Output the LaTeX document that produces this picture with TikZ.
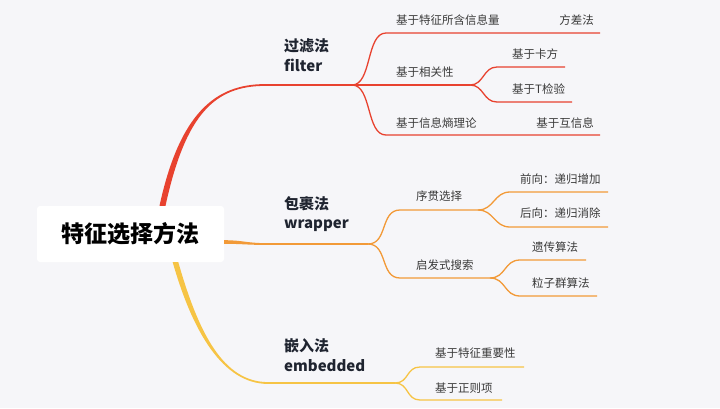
\documentclass[tikz,border=0pt]{standalone}
\usepackage{fontspec}
\setmainfont{Noto Sans CJK SC}
\definecolor{hgrund}{HTML}{F6F6F9}
\definecolor{astrot}{HTML}{E8422F}
\definecolor{astorange}{HTML}{F29A38}
\definecolor{astgelb}{HTML}{F6C445}
\definecolor{titel}{HTML}{1F2430}
\definecolor{schrift}{HTML}{3A3A3A}
\begin{document}
\begin{tikzpicture}[x=1pt, y=-1pt,
    wurzel/.style={rectangle, fill=white, rounded corners=3pt, minimum width=187pt, minimum height=56pt, inner sep=0pt, font=\fontsize{23}{23}\selectfont\bfseries, text=black},
    haupt/.style={anchor=west, align=left, inner sep=0pt, font=\fontsize{15}{19.5}\selectfont\bfseries, text=titel},
    blatt/.style={anchor=west, inner sep=0pt, font=\fontsize{11.5}{12}\selectfont, text=schrift},
    ast/.style={line width=1.7pt},
    zweig/.style={line width=1.3pt}
]
    \fill[hgrund] (0,0) rectangle (720,408);

    % Wurzel
    \node[wurzel] (root) at (130.5,234) {特征选择方法};

    % Hauptaeste
    \node[haupt] (filter) at (284,55) {过滤法\\filter};
    \node[haupt] (wrapper) at (284,214) {包裹法\\wrapper};
    \node[haupt] (embedded) at (284,355) {嵌入法\\embedded};

    \coordinate (f0) at ([xshift=32pt]root.north);
    \coordinate (f1) at (265,85);
    \coordinate (fj) at (352,85);
    \fill[astrot] ([xshift=-3pt]f0) .. controls +(20,-92) and +(-50,0) .. ([yshift=0.9pt]f1)
        -- ([yshift=-0.9pt]f1) .. controls +(-50,0) and +(20,-92) .. ([xshift=3pt]f0) -- cycle;
    \draw[astrot, ast] (f1) -- (fj);

    \coordinate (o0) at ([yshift=-8pt]root.east);
    \coordinate (o1) at (265,244);
    \coordinate (wj) at (368,244);
    \fill[astorange] ([yshift=1.8pt]o0) .. controls +(18,0) and +(-18,0) .. ([yshift=0.9pt]o1)
        -- ([yshift=-0.9pt]o1) .. controls +(-18,0) and +(18,0) .. ([yshift=-1.8pt]o0) -- cycle;
    \draw[astorange, ast] (o1) -- (wj);

    \coordinate (e0) at ([xshift=45pt]root.south);
    \coordinate (e1) at (268,383);
    \coordinate (ej) at (395,383);
    \fill[astgelb] ([xshift=-2.8pt]e0) .. controls +(20,70) and +(-45,0) .. ([yshift=-0.9pt]e1)
        -- ([yshift=0.9pt]e1) .. controls +(-45,0) and +(20,70) .. ([xshift=2.8pt]e0) -- cycle;
    \draw[astgelb, ast] (e1) -- (ej);

    % Filter
    \node[blatt] (f-info) at (396,20) {基于特征所含信息量};
    \node[blatt, anchor=east] (f-var) at (594,20) {方差法};
    \node[blatt] (f-korr) at (396,72) {基于相关性};
    \node[blatt] (f-chi) at (512,54) {基于卡方};
    \node[blatt] (f-t) at (512,89) {基于T检验};
    \node[blatt] (f-entr) at (396,123) {基于信息熵理论};
    \node[blatt, anchor=east] (f-mi) at (594,123) {基于互信息};

    \coordinate (fa) at (386,33);   \coordinate (fae) at (600,33);
    \coordinate (fb) at (470,85);
    \coordinate (fb1) at (497,67);  \coordinate (fb1e) at (565,67);
    \coordinate (fb2) at (497,102); \coordinate (fb2e) at (572,102);
    \coordinate (fc) at (386,135);  \coordinate (fce) at (600,135);
    \draw[astrot, zweig] (fj) .. controls +(20,0) and +(-20,0) .. (fa) -- (fae);
    \draw[astrot, zweig] (fj) -- (fb);
    \draw[astrot, zweig] (fb) .. controls +(14,0) and +(-14,0) .. (fb1) -- (fb1e);
    \draw[astrot, zweig] (fb) .. controls +(14,0) and +(-14,0) .. (fb2) -- (fb2e);
    \draw[astrot, zweig] (fj) .. controls +(20,0) and +(-20,0) .. (fc) -- (fce);

    % Wrapper
    \node[blatt] (w-seq) at (416,196) {序贯选择};
    \node[blatt] (w-vor) at (520,179) {前向：递归增加};
    \node[blatt] (w-rueck) at (520,213) {后向：递归消除};
    \node[blatt] (w-heur) at (416,265) {启发式搜索};
    \node[blatt] (w-gen) at (532,247) {遗传算法};
    \node[blatt] (w-pso) at (532,283) {粒子群算法};

    \coordinate (wa) at (400,210);  \coordinate (wae) at (478,210);
    \coordinate (wa1) at (510,192); \coordinate (wa1e) at (608,192);
    \coordinate (wa2) at (510,227); \coordinate (wa2e) at (608,227);
    \coordinate (wb) at (400,278);  \coordinate (wbe) at (490,278);
    \coordinate (wb1) at (520,260); \coordinate (wb1e) at (586,260);
    \coordinate (wb2) at (520,296); \coordinate (wb2e) at (597,296);
    \draw[astorange, zweig] (wj) .. controls +(20,0) and +(-20,0) .. (wa) -- (wae);
    \draw[astorange, zweig] (wae) .. controls +(16,0) and +(-16,0) .. (wa1) -- (wa1e);
    \draw[astorange, zweig] (wae) .. controls +(16,0) and +(-16,0) .. (wa2) -- (wa2e);
    \draw[astorange, zweig] (wj) .. controls +(20,0) and +(-20,0) .. (wb) -- (wbe);
    \draw[astorange, zweig] (wbe) .. controls +(16,0) and +(-16,0) .. (wb1) -- (wb1e);
    \draw[astorange, zweig] (wbe) .. controls +(16,0) and +(-16,0) .. (wb2) -- (wb2e);

    % Embedded
    \node[blatt] (e-wicht) at (435,353) {基于特征重要性};
    \node[blatt] (e-reg) at (435,388) {基于正则项};

    \coordinate (ea) at (420,367);  \coordinate (eae) at (524,367);
    \coordinate (eb) at (420,400);  \coordinate (ebe) at (502,400);
    \draw[astgelb, zweig] (ej) .. controls +(14,0) and +(-14,0) .. (ea) -- (eae);
    \draw[astgelb, zweig] (ej) .. controls +(14,0) and +(-14,0) .. (eb) -- (ebe);
\end{tikzpicture}
\end{document}
